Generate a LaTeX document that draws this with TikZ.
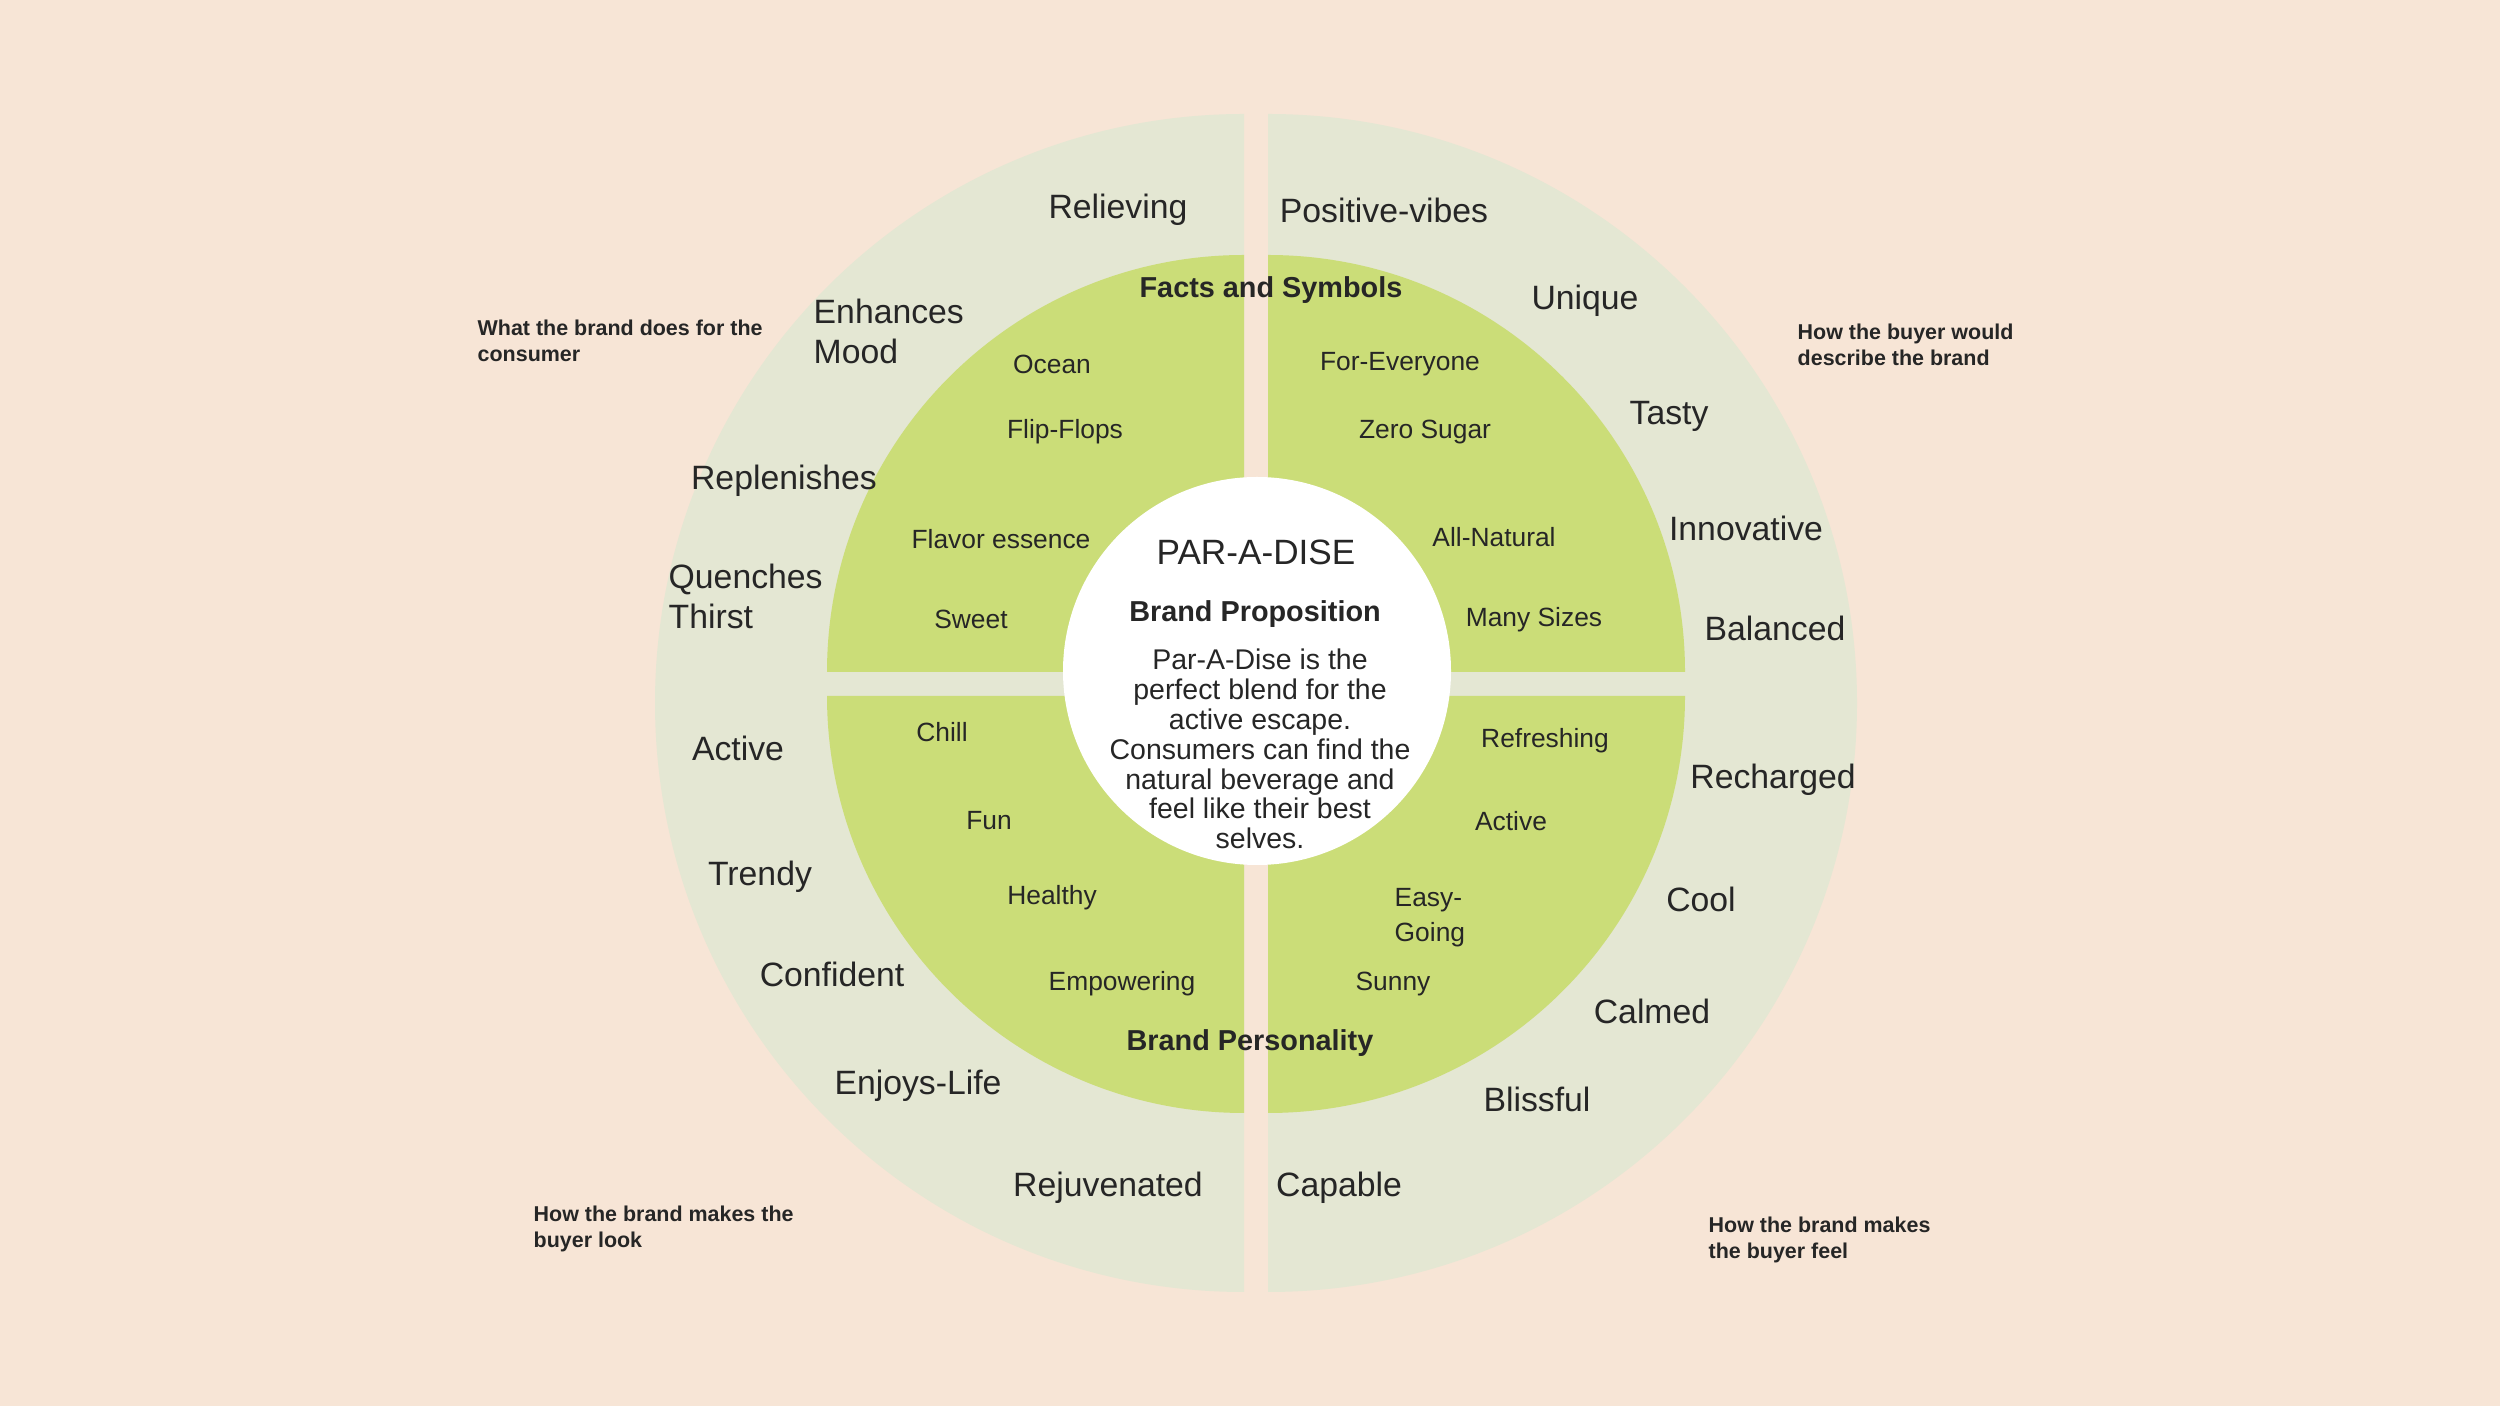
\documentclass[tikz,border=0pt]{standalone}
\usepackage{fontspec}
\setmainfont{Liberation Sans}
\usepackage{tikz}
\definecolor{peach}{HTML}{F7E5D6}
\definecolor{ringpale}{HTML}{E4E7D3}
\definecolor{ringgreen}{HTML}{CBDD78}
\definecolor{ink}{HTML}{262626}
\begin{document}
\begin{tikzpicture}[x=0.01cm,y=0.01cm,
  every node/.style={text=ink,inner sep=0pt},
  word/.style={font=\fontsize{9.6}{11.4}\selectfont,align=left},
  item/.style={font=\fontsize{7.5}{10}\selectfont,align=left},
  head/.style={font=\bfseries\fontsize{8.2}{9.5}\selectfont},
  note/.style={font=\bfseries\fontsize{6.1}{7.4}\selectfont,align=left,anchor=west},
  prop/.style={font=\fontsize{8.1}{8.5}\selectfont,align=center}]
\fill[peach] (0,0) rectangle (2500,1406);
\useasboundingbox (0,0) rectangle (2500,1406);
\fill[ringpale] (1244,703) -- ++(90:589) arc[start angle=90,end angle=270,radius=589] -- cycle;
\fill[ringpale] (1268,703) -- ++(-90:589) arc[start angle=-90,end angle=90,radius=589] -- cycle;
\fill[ringgreen] (1244,734) -- ++(90:417) arc[start angle=90,end angle=180,radius=417] -- cycle;
\fill[ringgreen] (1268,734) -- ++(0:417) arc[start angle=0,end angle=90,radius=417] -- cycle;
\fill[ringgreen] (1244,710) -- ++(180:417) arc[start angle=180,end angle=270,radius=417] -- cycle;
\fill[ringgreen] (1268,710) -- ++(270:417) arc[start angle=270,end angle=360,radius=417] -- cycle;
\fill[white] (1257,735) circle[radius=194];

\node[word] (o1) at (1118,1196) {Relieving};
\node[word,anchor=west] (o2) at (813,1075) {Enhances\\Mood};
\node[word] (o3) at (784,925) {Replenishes};
\node[word,anchor=west] (o4) at (668,810) {Quenches\\Thirst};
\node[word] (o5) at (1384,1196) {Positive-vibes};
\node[word] (o6) at (1585,1105) {Unique};
\node[word] (o7) at (1669,990) {Tasty};
\node[word] (o8) at (1746,878) {Innovative};
\node[word] (o9) at (1775,778) {Balanced};
\node[word] (o10) at (738,658) {Active};
\node[word] (o11) at (760,529) {Trendy};
\node[word] (o12) at (832,432) {Confident};
\node[word] (o13) at (918,320) {Enjoys-Life};
\node[word] (o14) at (1108,218) {Rejuvenated};
\node[word] (o15) at (1773,626) {Recharged};
\node[word] (o16) at (1701,507) {Cool};
\node[word] (o17) at (1652,395) {Calmed};
\node[word] (o18) at (1537,307) {Blissful};
\node[word] (o19) at (1339,218) {Capable};

\node[item] (i1) at (1052,1042) {Ocean};
\node[item] (i2) at (1065,974) {Flip-Flops};
\node[item] (i3) at (1001,867) {Flavor essence};
\node[item] (i4) at (971,787) {Sweet};
\node[item] (i5) at (1400,1042) {For-Everyone};
\node[item] (i6) at (1425,974) {Zero Sugar};
\node[item] (i7) at (1494,869) {All-Natural};
\node[item] (i8) at (1534,786) {Many Sizes};
\node[item] (i9) at (942,674) {Chill};
\node[item] (i10) at (989,585) {Fun};
\node[item] (i11) at (1052,508) {Healthy};
\node[item] (i12) at (1122,422) {Empowering};
\node[item] (i13) at (1545,665) {Refreshing};
\node[item] (i14) at (1511,585) {Active};
\node[item,anchor=west] (i15) at (1394,488) {Easy-\\Going};
\node[item] (i16) at (1393,422) {Sunny};
\node[head] (facts) at (1271,1116) {Facts and Symbols};
\node[head] (pers) at (1250,363) {Brand Personality};

\node[font=\fontsize{10}{12}\selectfont] (name) at (1256,854) {PAR-A-DISE};
\node[head] (bp) at (1255,792) {Brand Proposition};
\node[prop] (bptext) at (1260,657) {Par-A-Dise is the\\perfect blend for the\\active escape.\\Consumers can find the\\natural beverage and\\feel like their best\\selves.};

\node[note] (n1) at (477,1065) {What the brand does for the\\consumer};
\node[note] (n2) at (1797,1061) {How the buyer would\\describe the brand};
\node[note] (n3) at (533,177) {How the brand makes the\\buyer look};
\node[note] (n4) at (1708,166) {How the brand makes\\the buyer feel};
\end{tikzpicture}
\end{document}
